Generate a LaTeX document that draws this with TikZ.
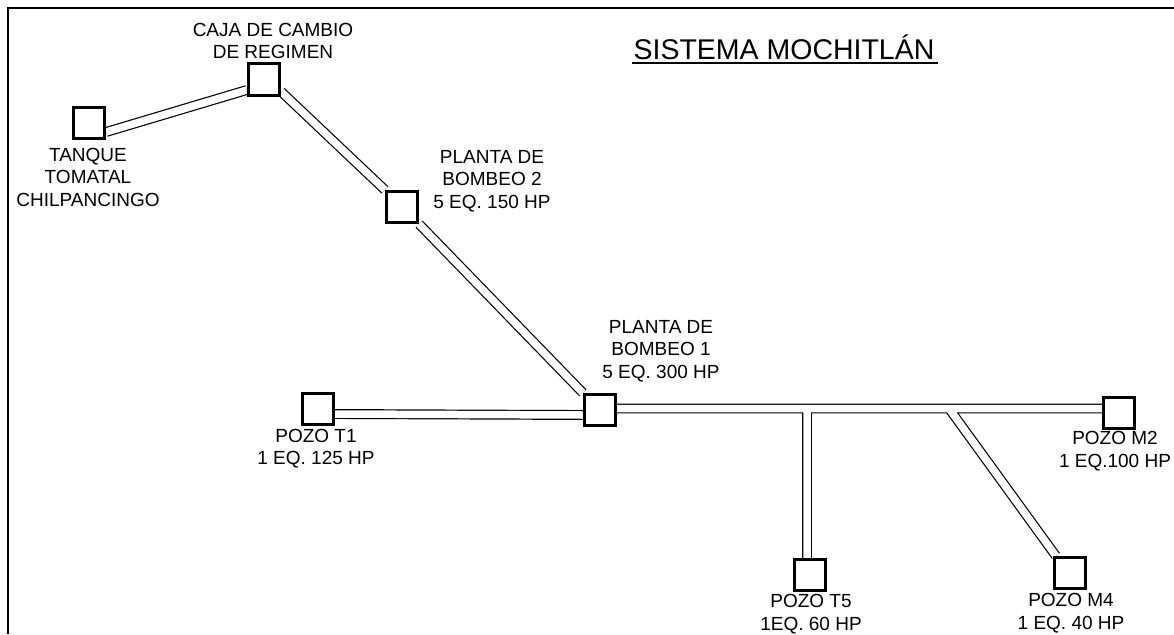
\documentclass[tikz,border=0pt]{standalone}
\usepackage{fontspec}
\setmainfont{Liberation Sans}
\usetikzlibrary{backgrounds}

\tikzset{
  caja/.style={draw, line width=2.8pt, fill=white, minimum size=31.5pt, inner sep=0pt},
  etiqueta/.style={align=center, inner sep=0pt, font=\fontsize{19}{22.5}\selectfont},
  tubo/.style={draw=black, line width=1.2pt, double=white, double distance=7.5pt},
}

\begin{document}
\begin{tikzpicture}[x=1pt, y=-1pt]
	\useasboundingbox (0,0) rectangle (1174,634);
	
	% Marco
	\draw[line width=2pt] (8,634) -- (8,8) -- (1174,8);
	
	% Titulo
	\node[inner sep=0pt, font=\fontsize{28.5}{30}\selectfont] (titulo) at (784,47) {SISTEMA MOCHITLÁN};
	\draw[line width=1.5pt] (632,63) -- (938,63);
	
	% Cajas
	\node[caja] (tanque) at (89,123) {};
	\node[caja] (cambio) at (264,79.5) {};
	\node[caja] (pb2) at (402,207) {};
	\node[caja] (pb1) at (600,410) {};
	\node[caja] (t1) at (318,409) {};
	\node[caja] (m2) at (1119,413) {};
	\node[caja] (t5) at (810,575) {};
	\node[caja] (m4) at (1070,573) {};
	
	% Etiquetas
	\node[etiqueta] (tanquelbl) at (88,177) {TANQUE\\TOMATAL\\CHILPANCINGO};
	\node[etiqueta] (cambiolbl) at (273,41) {CAJA DE CAMBIO\\DE REGIMEN};
	\node[etiqueta] (pb2lbl) at (492,181) {PLANTA DE\\BOMBEO 2\\5 EQ. 150 HP};
	\node[etiqueta] (pb1lbl) at (661,351) {PLANTA DE\\BOMBEO 1\\5 EQ. 300 HP};
	\node[etiqueta] (t1lbl) at (316,448.5) {POZO T1\\1 EQ. 125 HP};
	\node[etiqueta] (m2lbl) at (1115,451) {POZO M2\\1 EQ.100 HP};
	\node[etiqueta] (t5lbl) at (811,614) {POZO T5\\1EQ. 60 HP};
	\node[etiqueta] (m4lbl) at (1071,613) {POZO M4\\1 EQ. 40 HP};
	
	% Derivaciones
	\coordinate (jt5) at (807,408.5);
	\coordinate (jm4) at (949,408.5);
	
	% Tuberias
	\begin{scope}[on background layer]
		\draw[tubo] ([yshift=-9pt]tanque.east) -- ([yshift=-10.5pt]cambio.west)
			([yshift=5pt]cambio.south east) -- (pb2.north west)
			(pb2.south east) -- (pb1.north west)
			([yshift=-5pt]t1.east) -- ([yshift=-5pt]pb1.west)
			([yshift=1.5pt]pb1.east) -- (m2.west |- jt5)
			(jt5) -- (jt5 |- t5.north)
			(jm4) -- ([xshift=3pt]m4.north west);
	\end{scope}
\end{tikzpicture}
\end{document}
